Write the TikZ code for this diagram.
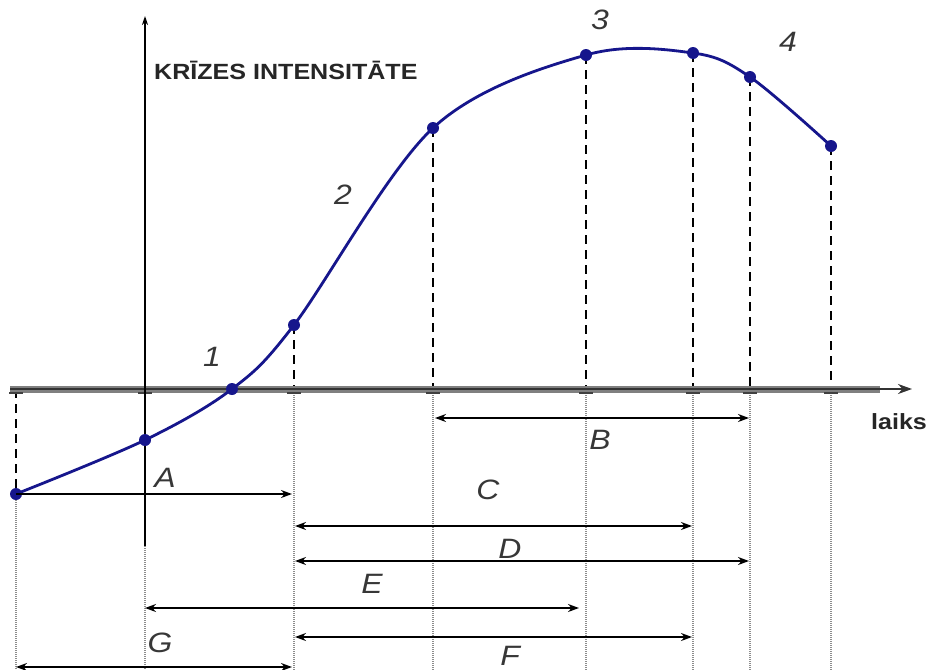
\documentclass[tikz,border=0pt]{standalone}
\usepackage{fontspec}
\setmainfont{Liberation Sans}[FakeStretch=1.14]
\usetikzlibrary{arrows.meta}
\definecolor{curveblue}{RGB}{22,22,140}
\definecolor{labgray}{RGB}{55,55,55}
\tikzset{
  curve/.style={curveblue, line width=2.8pt},
  pt/.style={circle, fill=curveblue, inner sep=0pt, minimum size=12pt},
  dashv/.style={black, line width=1.6pt, dash pattern=on 9pt off 6pt},
  dotv/.style={black!45, line width=1.3pt, dash pattern=on 1pt off 1pt},
  meas/.style={black, line width=1.7pt},
  tipr/.style={-{Stealth[length=11pt,width=8pt]}},
  tipb/.style={{Stealth[length=11pt,width=8pt]}-{Stealth[length=11pt,width=8pt]}},
  lab/.style={labgray, font=\fontsize{28}{30}\selectfont\itshape, inner sep=0pt},
  axtitle/.style={black!85, font=\fontsize{22}{24}\selectfont\bfseries, inner sep=0pt},
  tick/.style={black!75, line width=1.8pt}
}
\begin{document}
\begin{tikzpicture}[x=1pt,y=-1pt]
\clip (0,0) rectangle (930,670);
\fill[white] (0,0) rectangle (930,670);
% curve points
\coordinate (p0) at (16,494);
\coordinate (p1) at (145,440);
\coordinate (p2) at (232,389);
\coordinate (p3) at (294,325);
\coordinate (p4) at (433,128);
\coordinate (p5) at (586,55);
\coordinate (p6) at (693,53);
\coordinate (p7) at (750,77);
\coordinate (p8) at (831,146);
% axis foot points
\coordinate (a0) at (16,389);
\coordinate (a3) at (294,389);
\coordinate (a4) at (433,389);
\coordinate (a5) at (586,389);
\coordinate (a6) at (693,389);
\coordinate (a7) at (750,389);
\coordinate (a8) at (831,389);
% bottom points
\coordinate (b0) at (16,670);
\coordinate (bv) at (145,670);
\coordinate (b3) at (294,670);
\coordinate (b4) at (433,670);
\coordinate (b5) at (586,670);
\coordinate (b6) at (693,670);
\coordinate (b7) at (750,670);
\coordinate (b8) at (831,670);
\coordinate (vend) at (145,546);
% dotted lines below axis
\foreach \s/\e in {p0/b0, vend/bv, a3/b3, a4/b4, a5/b5, a6/b6, a7/b7, a8/b8}
  \draw[dotv] (\s) -- (\e);
% dashed lines
\foreach \s/\e in {a0/p0, p3/a3, p4/a4, p5/a5, p6/a6, p7/a7, p8/a8}
  \draw[dashv] (\s) -- (\e);
% horizontal axis
\coordinate (hstart) at (10,389);
\coordinate (hend) at (912,389);
\draw[black!50, line width=7pt] (hstart) -- (880,389);
\draw[black!80, line width=2pt] (hstart) -- (880,389);
\draw[black!80, line width=2pt, -{Stealth[length=14pt,width=10pt]}] (870,389) -- (hend);
% ticks under axis
\foreach \x in {16,145,294,433,586,693,750,831}
  \draw[tick] (\x-7,393) -- (\x+7,393);
% vertical axis
\coordinate (vtop) at (145,16);
\draw[black, line width=2pt, -{Stealth[length=9pt,width=6pt]}] (vend) -- (vtop);
% curve
\draw[curve] plot[smooth, tension=0.55] coordinates {(16,494) (145,440) (232,389) (294,325) (433,128) (586,55) (693,53) (750,77) (831,146)};
\foreach \p in {p0,p1,p2,p3,p4,p5,p6,p7,p8}
  \node[pt] at (\p) {};
% measurement arrows
\coordinate (Al) at (16,494);   \coordinate (Ar) at (292,494);
\coordinate (Bl) at (435,418);  \coordinate (Br) at (749,418);
\coordinate (Cl) at (295,526);  \coordinate (Cr) at (692,526);
\coordinate (Dl) at (295,561);  \coordinate (Dr) at (749,561);
\coordinate (El) at (145,608);  \coordinate (Er) at (579,608);
\coordinate (Fl) at (295,637);  \coordinate (Fr) at (692,637);
\coordinate (Gl) at (16,667);   \coordinate (Gr) at (292,667);
\draw[meas, tipr] (Al) -- (Ar);
\draw[meas, tipb] (Bl) -- (Br);
\draw[meas, tipb] (Cl) -- (Cr);
\draw[meas, tipb] (Dl) -- (Dr);
\draw[meas, tipb] (El) -- (Er);
\draw[meas, tipb] (Fl) -- (Fr);
\draw[meas, tipb] (Gl) -- (Gr);
% labels
\node[lab] (l1) at (212,357) {1};
\node[lab] (l2) at (343,195) {2};
\node[lab] (l3) at (600,20) {3};
\node[lab] (l4) at (788,42) {4};
\node[lab] (lA) at (165,478) {A};
\node[lab] (lB) at (600,440) {B};
\node[lab] (lC) at (488,490) {C};
\node[lab] (lD) at (510,549) {D};
\node[lab] (lE) at (372,584) {E};
\node[lab] (lF) at (510,656) {F};
\node[lab] (lG) at (160,643) {G};
\node[axtitle, anchor=west] (title) at (154,70) {KRĪZES INTENSITĀTE};
\node[axtitle] (laiks) at (899,422) {laiks};
\end{tikzpicture}
\end{document}
